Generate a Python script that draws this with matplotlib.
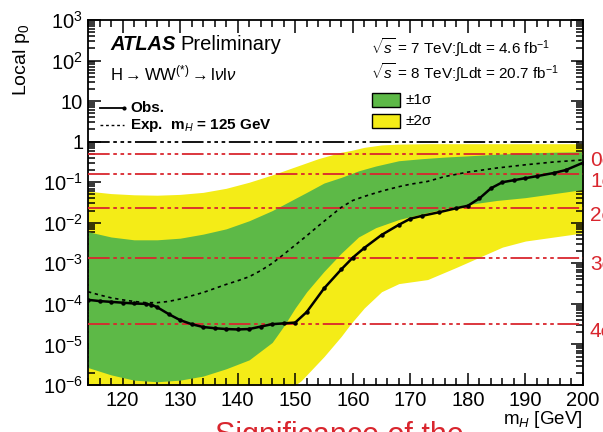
import numpy as np
import matplotlib
matplotlib.use('Agg')
import matplotlib.pyplot as plt
from matplotlib.ticker import FixedLocator, FixedFormatter, MultipleLocator, LogLocator, NullFormatter
from matplotlib.patches import Rectangle
from matplotlib.lines import Line2D

plt.rcParams['font.family'] = ['Liberation Sans', 'DejaVu Sans']
plt.rcParams['mathtext.fontset'] = 'custom'
plt.rcParams['mathtext.rm'] = 'Liberation Sans'
plt.rcParams['mathtext.it'] = 'Liberation Sans:italic'
plt.rcParams['mathtext.bf'] = 'Liberation Sans:bold'

# observed local p0 (log10) vs Higgs mass
mh_obs = [114, 116, 118, 120, 122, 124, 125, 126, 128, 130, 132, 134, 136, 138, 140,
          142, 144, 146, 148, 150, 152, 155, 158, 160, 162, 165, 168, 170, 172, 175,
          178, 180, 182, 184, 186, 188, 190, 192, 195, 197, 200]
logp_obs = [-3.90, -3.93, -3.95, -3.97, -3.99, -4.00, -4.02, -4.08, -4.25, -4.40, -4.50,
            -4.57, -4.60, -4.62, -4.63, -4.62, -4.56, -4.50, -4.48, -4.46, -4.20, -3.62,
            -3.15, -2.86, -2.62, -2.30, -2.05, -1.90, -1.83, -1.74, -1.64, -1.58, -1.40,
            -1.15, -1.00, -0.95, -0.90, -0.85, -0.77, -0.70, -0.52]

# expected p0 for a 125 GeV signal
mh_exp = [114, 116, 118, 120, 122, 124, 126, 128, 130, 132, 134, 136, 138, 140, 142, 144,
          146, 148, 150, 152, 154, 156, 158, 160, 162, 165, 168, 170, 173, 176, 180, 185,
          190, 195, 200]
logp_exp = [-3.70, -3.78, -3.85, -3.90, -3.94, -3.97, -3.97, -3.94, -3.88, -3.80, -3.72,
            -3.62, -3.52, -3.43, -3.33, -3.18, -3.00, -2.78, -2.55, -2.32, -2.08, -1.85,
            -1.62, -1.45, -1.35, -1.22, -1.11, -1.05, -0.98, -0.86, -0.75, -0.65, -0.57,
            -0.50, -0.45]

# +-1 sigma band
mh_b1 = [114, 118, 122, 126, 130, 134, 138, 142, 146, 148, 150, 152, 155, 158, 161, 164,
         168, 172, 176, 180, 185, 190, 195, 200]
b1_hi = [-2.22, -2.35, -2.42, -2.42, -2.38, -2.28, -2.15, -1.95, -1.70, -1.55, -1.40,
         -1.25, -1.02, -0.88, -0.72, -0.60, -0.47, -0.42, -0.38, -0.35, -0.31, -0.28,
         -0.26, -0.25]
b1_lo = [-5.57, -5.75, -5.88, -5.92, -5.88, -5.78, -5.60, -5.38, -4.95, -4.55, -4.10,
         -3.70, -3.20, -2.75, -2.35, -2.12, -1.92, -1.78, -1.65, -1.55, -1.45, -1.38,
         -1.28, -1.18]

# +-2 sigma band
mh_b2 = [114, 118, 122, 126, 130, 134, 138, 142, 146, 148, 150, 151, 154, 155, 158, 159.6,
         162, 165, 168, 173, 178, 182, 186, 190, 195, 200]
b2_hi = [-1.22, -1.28, -1.31, -1.32, -1.30, -1.25, -1.15, -1.00, -0.82, -0.72, -0.62,
         -0.57, -0.42, -0.38, -0.26, -0.22, -0.14, -0.08, -0.06, -0.05, -0.05, -0.05,
         -0.05, -0.05, -0.05, -0.05]
b2_lo = [-6.6, -6.6, -6.6, -6.6, -6.6, -6.6, -6.6, -6.6, -6.6, -6.2, -6.0, -5.9, -5.45,
         -5.3, -4.8, -4.5, -4.1, -3.7, -3.5, -3.4, -3.1, -2.85, -2.6, -2.45, -2.35, -2.25]

sigmas = [0, 1, 2, 3, 4]
sigma_p = [0.5, 0.1587, 0.02275, 0.00135, 3.17e-5]

green = '#5db947'
yellow = '#f4ec17'
red = '#d9262e'

fig = plt.figure(figsize=(6.03, 4.32), dpi=100)
ax = fig.add_axes([88/603, 47/432, 495/603, 365/432])

ax.fill_between(mh_b2, 10**np.array(b2_lo), 10**np.array(b2_hi), color=yellow, lw=0, zorder=1)
ax.fill_between(mh_b1, 10**np.array(b1_lo), 10**np.array(b1_hi), color=green, lw=0, zorder=2)

# sigma reference lines
ax.axhline(1.0, color='k', lw=1.3, dashes=(12, 2, 2, 2, 2, 2, 2, 2), zorder=3)
for s, p in zip(sigmas, sigma_p):
    ax.axhline(p, color=red, lw=1.3, dashes=(12, 2, 2, 2, 2, 2, 2, 2), zorder=3)
    ax.annotate('%d\u03c3' % s, xy=(1.0, p), xycoords=('axes fraction', 'data'),
                xytext=(5, -5), textcoords='offset points', color=red,
                fontsize=15, va='center', ha='left', annotation_clip=False)

ax.plot(mh_exp, 10**np.array(logp_exp), color='k', lw=1.2, dashes=(2, 2.2), zorder=4)
ax.plot(mh_obs, 10**np.array(logp_obs), color='k', lw=1.8, marker='o', ms=2.2, zorder=5)

ax.set_yscale('log')
ax.set_xlim(114, 200)
ax.set_ylim(1e-6, 1e3)

ax.xaxis.set_major_locator(MultipleLocator(10))
ax.xaxis.set_minor_locator(MultipleLocator(2))
ylabs = ['10$^{-6}$', '10$^{-5}$', '10$^{-4}$', '10$^{-3}$', '10$^{-2}$', '10$^{-1}$',
         '1', '10', '10$^{2}$', '10$^{3}$']
ax.yaxis.set_major_locator(FixedLocator([10.0**k for k in range(-6, 4)]))
ax.yaxis.set_major_formatter(FixedFormatter(ylabs))
ax.yaxis.set_minor_locator(LogLocator(base=10, subs=np.arange(2, 10), numticks=20))
ax.yaxis.set_minor_formatter(NullFormatter())
ax.tick_params(which='both', direction='in', top=True, right=True, labelsize=14.5, width=1.1)
ax.tick_params(which='major', length=9)
ax.tick_params(which='minor', length=5)
ax.tick_params(axis='x', pad=4)
for sp in ax.spines.values():
    sp.set_linewidth(1.3)

fig.text(583/603, 1 - 419/432, 'm$_{H}$ [GeV]', ha='right', va='center', fontsize=13.5)
fig.text(22/603, 1 - 60/432, 'Local p$_{0}$', rotation=90, ha='center', va='center', fontsize=14)

# labels in the upper left
fig.text(110/603, 1 - 45/432, 'ATLAS', fontsize=14.5, va='center', weight='bold', style='italic')
fig.text(180/603, 1 - 45/432, 'Preliminary', fontsize=14.5, va='center')
fig.text(110/603, 1 - 73/432, r'H$\rightarrow$WW$^{(*)}$$\rightarrow$l$\nu$l$\nu$', fontsize=12, va='center')
fig.lines.append(Line2D([100/603, 124/603], [1 - 108/432] * 2, color='k', lw=1.3,
                        marker='o', ms=2, markevery=[1], transform=fig.transFigure))
fig.text(130/603, 1 - 108/432, 'Obs.', fontsize=11, va='center', weight='bold')
fig.lines.append(Line2D([100/603, 124/603], [1 - 125/432] * 2, color='k', lw=1.0,
                        dashes=(2, 2), transform=fig.transFigure))
fig.text(130/603, 1 - 125/432, r'Exp.  m$_{H}$ = 125 GeV', fontsize=11, va='center', weight='bold')

# labels in the upper right
fig.text(371/603, 1 - 47/432, r'$\sqrt{s}$ = 7 TeV:$\int$Ldt = 4.6 fb$^{-1}$', fontsize=11, va='center')
fig.text(371/603, 1 - 72/432, r'$\sqrt{s}$ = 8 TeV:$\int$Ldt = 20.7 fb$^{-1}$', fontsize=11, va='center')
fig.patches.append(Rectangle((372/603, 1 - 107/432), 28/603, 14/432, facecolor=green,
                             edgecolor='k', lw=1.0, transform=fig.transFigure))
fig.text(405/603, 1 - 100/432, '\u00b11\u03c3', fontsize=11, va='center')
fig.patches.append(Rectangle((372/603, 1 - 128/432), 28/603, 14/432, facecolor=yellow,
                             edgecolor='k', lw=1.0, transform=fig.transFigure))
fig.text(405/603, 1 - 121/432, '\u00b12\u03c3', fontsize=11, va='center')

fig.text(215/603, 1 - 421/432, 'Significance of the', color=red, fontsize=22, va='top')

fig.savefig('out.png', dpi=100)
